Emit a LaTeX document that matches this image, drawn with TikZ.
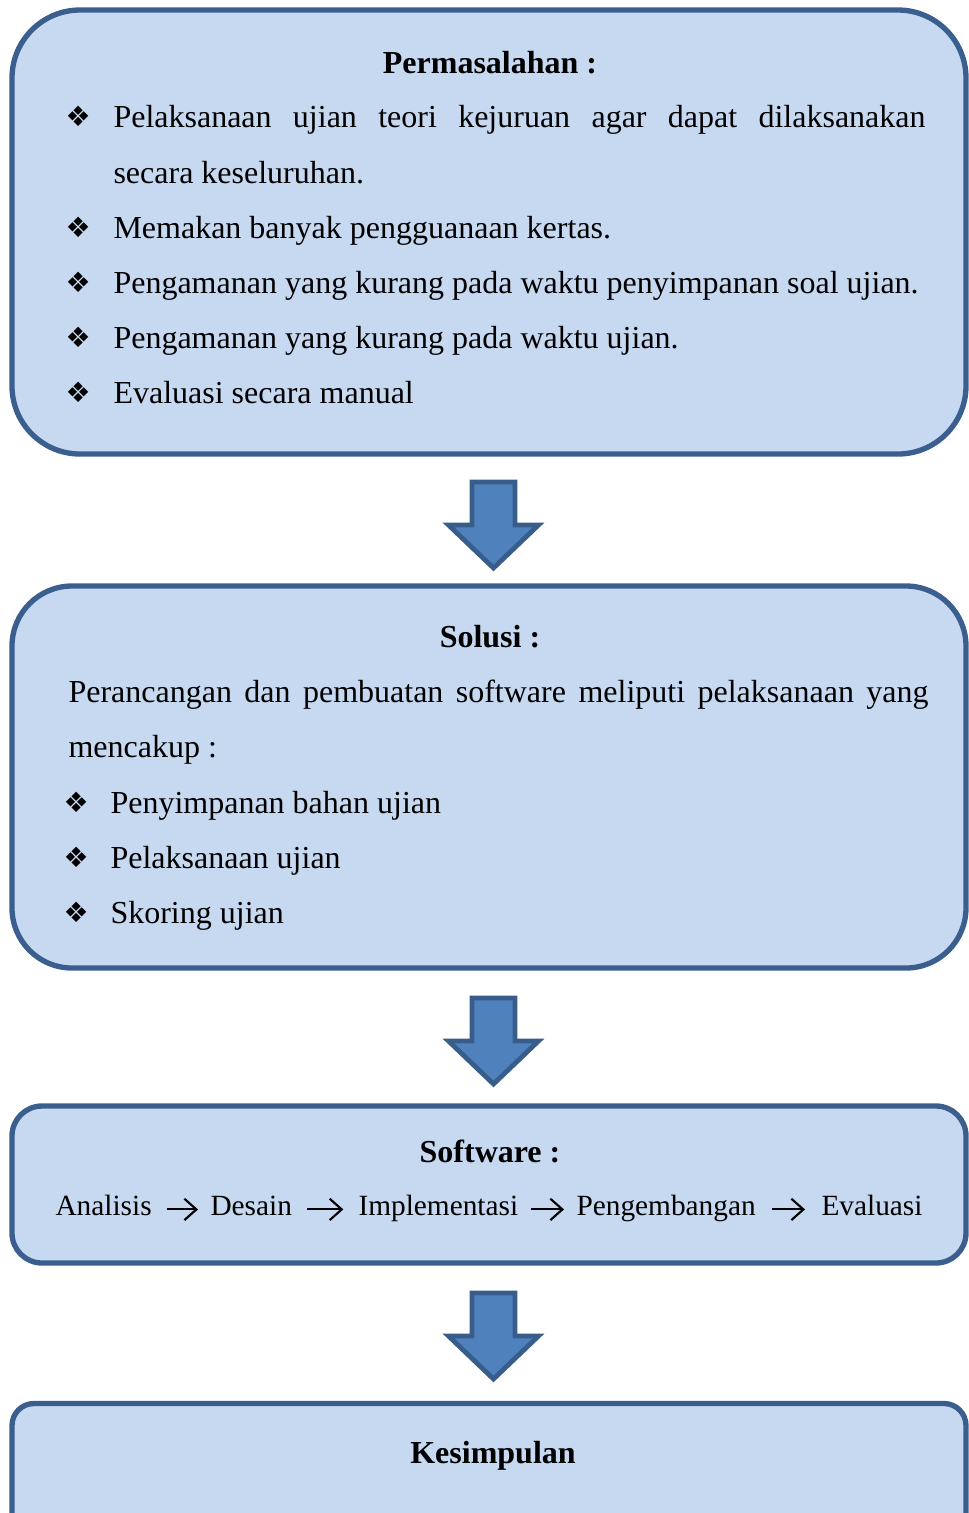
\documentclass[tikz,border=0pt]{standalone}
\usepackage{fontspec}
\setmainfont{Liberation Serif}
\newfontfamily\symfont{DejaVu Sans}
\usetikzlibrary{arrows.meta}
\definecolor{boxfill}{HTML}{C6D9F1}
\definecolor{boxline}{HTML}{3A5F8E}
\definecolor{arrfill}{HTML}{4F81BD}
\definecolor{arrline}{HTML}{385D8A}
\newcommand\blockarrow[2]{%
  \draw[blockarr] (#1-21.5,#2) -- (#1+21.5,#2) -- (#1+21.5,#2+43) -- (#1+45,#2+43)
    -- (#1,#2+86) -- (#1-45,#2+43) -- (#1-21.5,#2+43) -- cycle;}
\begin{document}
\begin{tikzpicture}[x=0.375pt,y=-0.375pt,
  box/.style={draw=boxline, fill=boxfill, line width=2pt, inner sep=0pt, minimum width=357.75pt},
  txt/.style={inner sep=0pt, anchor=base west, font=\fontsize{12pt}{14pt}\selectfont},
  ttl/.style={inner sep=0pt, anchor=base, font=\fontsize{12pt}{14pt}\selectfont\bfseries},
  bul/.style={inner sep=0pt, anchor=base west, font=\fontsize{10.5pt}{12pt}\symfont},
  word/.style={inner sep=0pt, anchor=base west, text height=7.5pt, text depth=2.3pt, font=\fontsize{11pt}{13pt}\selectfont},
  blockarr/.style={draw=arrline, fill=arrfill, line width=1.8pt, line join=miter},
  flow/.style={line width=0.8pt, -{Straight Barb[length=4.5pt,width=8pt]}}]
\useasboundingbox (0,0) rectangle (969,1513);
\clip (0,0) rectangle (969,1513);

% ---- Box 1
\node[box, rounded corners=25.5pt, minimum height=166.5pt] (b1) at (489,232) {};
\node[ttl] (t1) at (490,73) {Permasalahan :};
\node[bul] (p1b1) at (65,126) {❖};
\node[txt] (p1l1) at (113,127) {\makebox[304.5pt][s]{Pelaksanaan ujian teori kejuruan agar dapat dilaksanakan}};
\node[txt] (p1l2) at (113,183) {secara keseluruhan.};
\node[bul] (p1b2) at (65,237) {❖};
\node[txt] (p1l3) at (113,238) {Memakan banyak pengguanaan kertas.};
\node[bul] (p1b3) at (65,292) {❖};
\node[txt] (p1l4) at (113,293) {Pengamanan yang kurang pada waktu penyimpanan soal ujian.};
\node[bul] (p1b4) at (65,347) {❖};
\node[txt] (p1l5) at (113,348) {Pengamanan yang kurang pada waktu ujian.};
\node[bul] (p1b5) at (65,402) {❖};
\node[txt] (p1l6) at (113,403) {Evaluasi secara manual};

\blockarrow{493.5}{482}

% ---- Box 2
\node[box, rounded corners=22.5pt, minimum height=143.25pt] (b2) at (489,777) {};
\node[ttl] (t2) at (490,647) {Solusi :};
\node[txt] (s1) at (68,702) {\makebox[322.5pt][s]{Perancangan dan pembuatan software meliputi pelaksanaan yang}};
\node[txt] (s2) at (68,757) {mencakup :};
\node[bul] (sb1) at (63,812) {❖};
\node[txt] (s3) at (110,813) {Penyimpanan bahan ujian};
\node[bul] (sb2) at (63,867) {❖};
\node[txt] (s4) at (110,868) {Pelaksanaan ujian};
\node[bul] (sb3) at (63,922) {❖};
\node[txt] (s5) at (110,923) {Skoring ujian};

\blockarrow{493.5}{998}

% ---- Box 3
\node[box, rounded corners=11.25pt, minimum height=58.875pt] (b3) at (489,1184.5) {};
\node[ttl] (t3) at (490,1162) {Software :};
\node[word] (w1) at (55,1215) {Analisis};
\node[word] (w2) at (210,1215) {Desain};
\node[word] (w3) at (358,1215) {Implementasi};
\node[word] (w4) at (576,1215) {Pengembangan};
\node[word] (w5) at (821,1215) {Evaluasi};
\draw[flow] ([xshift=5.5pt,yshift=-0.5pt]w1.east) -- ([xshift=-4.5pt,yshift=-0.5pt]w2.west);
\draw[flow] ([xshift=5.5pt,yshift=-0.5pt]w2.east) -- ([xshift=-5.5pt,yshift=-0.5pt]w3.west);
\draw[flow] ([xshift=4.5pt,yshift=-0.5pt]w3.east) -- ([xshift=-4.5pt,yshift=-0.5pt]w4.west);
\draw[flow] ([xshift=6pt,yshift=-0.5pt]w4.east) -- ([xshift=-6pt,yshift=-0.5pt]w5.west);

\blockarrow{493.5}{1293}

% ---- Box 4
\node[box, rounded corners=8.25pt, minimum height=58.875pt] (b4) at (489,1482) {};
\node[ttl] (t4) at (493,1463) {Kesimpulan};
\end{tikzpicture}
\end{document}
